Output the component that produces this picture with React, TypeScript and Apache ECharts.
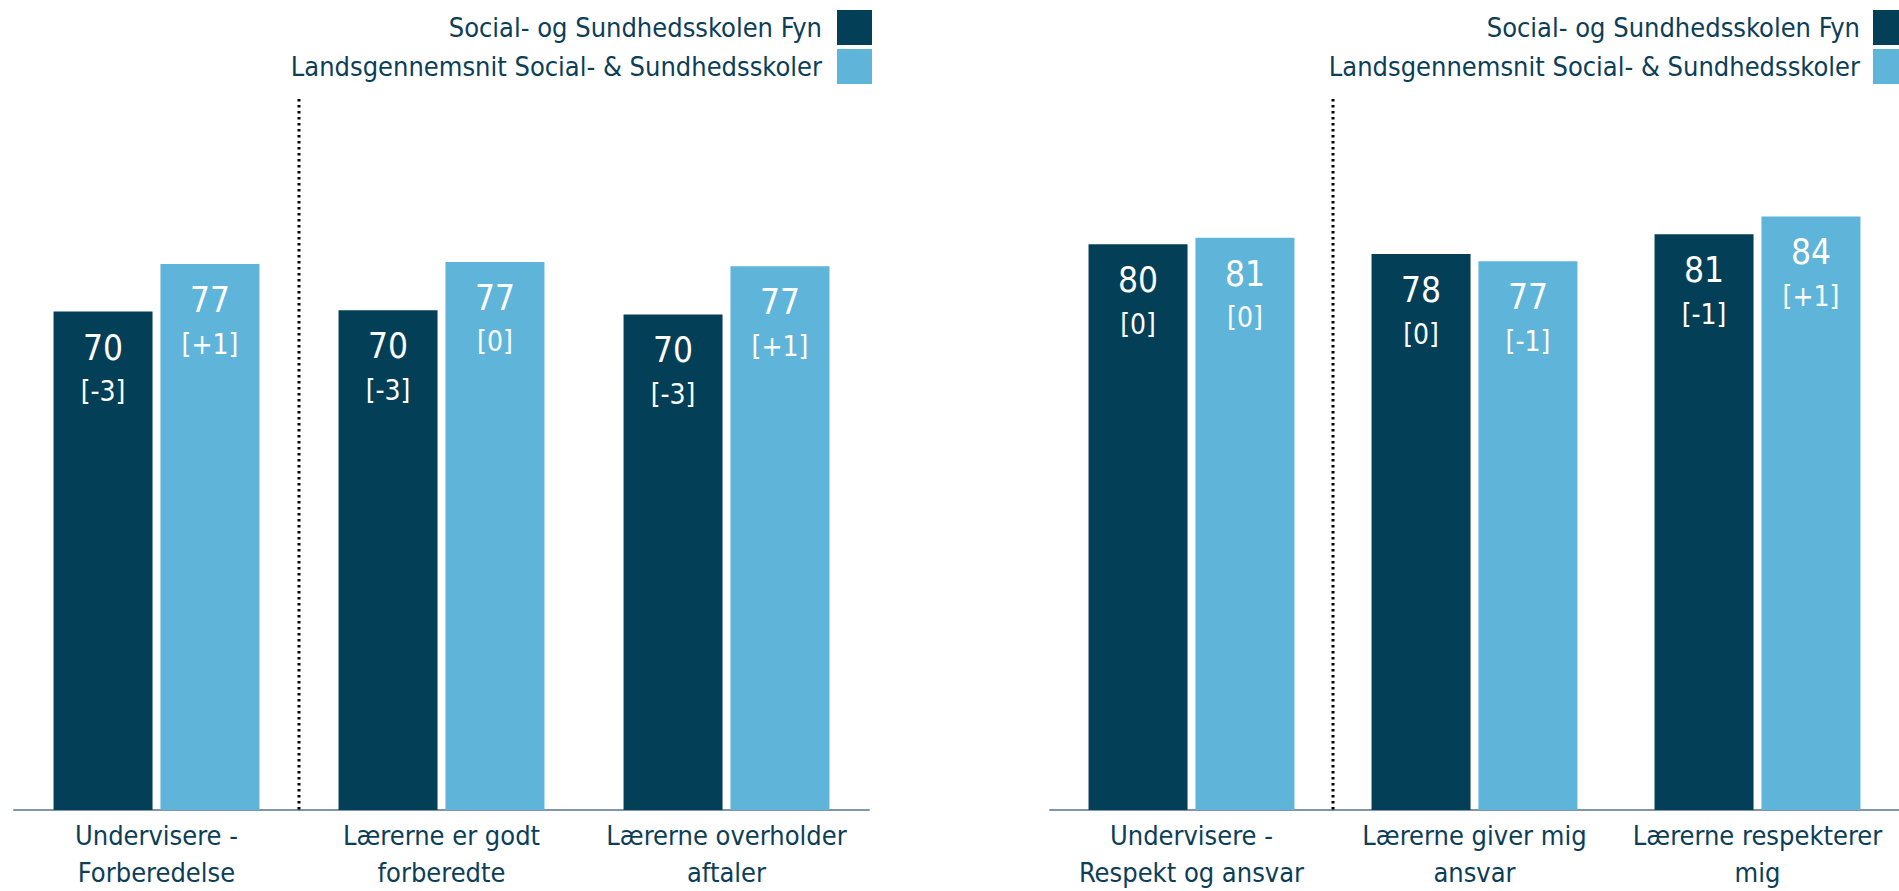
import React, { useEffect, useRef } from "react";
import * as echarts from "echarts";

const seriesNames = ["Social- og Sundhedsskolen Fyn", "Landsgennemsnit Social- & Sundhedsskoler"];

const leftCategories = ["Undervisere -\nForberedelse", "Lærerne er godt\nforberedte", "Lærerne overholder\naftaler"];
const leftSchool = [70.2, 70.4, 69.8];
const leftNational = [76.9, 77.2, 76.6];
const leftSchoolChange = ["-3", "-3", "-3"];
const leftNationalChange = ["+1", "0", "+1"];

const rightCategories = ["Undervisere -\nRespekt og ansvar", "Lærerne giver mig\nansvar", "Lærerne respekterer\nmig"];
const rightSchool = [79.7, 78.3, 81.1];
const rightNational = [80.6, 77.3, 83.6];
const rightSchoolChange = ["0", "0", "-1"];
const rightNationalChange = ["0", "-1", "+1"];

const DARK = "#043F58";
const LIGHT = "#5FB5D9";
const TEXT = "#0C3E57";
const FONT = "'DejaVu Sans Condensed', 'Liberation Sans', sans-serif";

function barSeries(name: string, values: number[], changes: string[], color: string, idx: number) {
  return {
    type: "bar",
    name,
    xAxisIndex: idx,
    yAxisIndex: idx,
    barWidth: 99,
    barGap: "8%",
    itemStyle: { color },
    data: values,
    label: {
      show: true,
      position: "insideTop",
      distance: 14,
      formatter: (p: any) => `{v|${Math.round(p.value)}}\n{d|[${changes[p.dataIndex]}]}`,
      rich: {
        v: { fontSize: 35, lineHeight: 44, color: "#ffffff", fontFamily: FONT },
        d: { fontSize: 28, lineHeight: 44, color: "#ffffff", fontFamily: FONT },
      },
    },
  };
}

function xAxisFor(cats: string[], idx: number) {
  return {
    type: "category",
    gridIndex: idx,
    data: cats,
    axisLine: { show: true, lineStyle: { color: "#8196AB", width: 2 } },
    axisTick: { show: false },
    axisLabel: {
      interval: 0,
      margin: 7,
      fontSize: 27,
      lineHeight: 37,
      color: TEXT,
      fontFamily: FONT,
    },
    splitLine: { show: false },
  };
}

function legendGraphic(rectX: number, textRight: number) {
  const colors = [DARK, LIGHT];
  const ys = [10, 49];
  const out: any[] = [];
  seriesNames.forEach((n, i) => {
    out.push({
      type: "rect",
      shape: { x: rectX, y: ys[i], width: 35, height: 35 },
      style: { fill: colors[i] },
    });
    out.push({
      type: "text",
      x: textRight,
      y: ys[i] + 17.5,
      style: {
        text: n,
        fill: TEXT,
        font: `27px ${FONT}`,
        textAlign: "right",
        textVerticalAlign: "middle",
        verticalAlign: "middle",
      },
    });
  });
  return out;
}

export default function App() {
  const ref = useRef<HTMLDivElement>(null);
  useEffect(() => {
    if (!ref.current) return;
    const chart = echarts.init(ref.current, undefined, { renderer: "svg" });
    const legends = [...legendGraphic(837, 822), ...legendGraphic(1873, 1860)];
    chart.setOption({
      animation: false,
      backgroundColor: "#ffffff",
      textStyle: { fontFamily: FONT },
      grid: [
        { left: 14, top: 100, width: 855, height: 715 },
        { left: 1050, top: 100, width: 855, height: 715 },
      ],
      xAxis: [xAxisFor(leftCategories, 0), xAxisFor(rightCategories, 1)],
      yAxis: [
        { type: "value", gridIndex: 0, min: 0, max: 100, show: false, splitLine: { show: false } },
        { type: "value", gridIndex: 1, min: 0, max: 100, show: false, splitLine: { show: false } },
      ],
      series: [
        barSeries(seriesNames[0], leftSchool, leftSchoolChange, DARK, 0),
        barSeries(seriesNames[1], leftNational, leftNationalChange, LIGHT, 0),
        barSeries(seriesNames[0], rightSchool, rightSchoolChange, DARK, 1),
        barSeries(seriesNames[1], rightNational, rightNationalChange, LIGHT, 1),
      ],
      graphic: legends,
    });
    // dotted separator between first and second category, via the axes' own scales
    const seps: any[] = [0, 1].map((g) => {
      const x0 = chart.convertToPixel({ xAxisIndex: g }, 0) as number;
      const x1 = chart.convertToPixel({ xAxisIndex: g }, 1) as number;
      const yTop = chart.convertToPixel({ yAxisIndex: g }, 100) as number;
      const yBot = chart.convertToPixel({ yAxisIndex: g }, 0) as number;
      const x = Math.round((x0 + x1) / 2);
      return {
        type: "line",
        shape: { x1: x, y1: yTop - 1, x2: x, y2: yBot },
        style: { stroke: "#000000", lineWidth: 3, lineDash: [2.6, 3.4] },
        z: 10,
      };
    });
    chart.setOption({ graphic: [...legends, ...seps] });
    return () => chart.dispose();
  }, []);
  return (
    <div
      ref={ref}
      style={{ position: "fixed", left: 0, top: 0, width: 1899, height: 891, background: "#fff" }}
    />
  );
}
